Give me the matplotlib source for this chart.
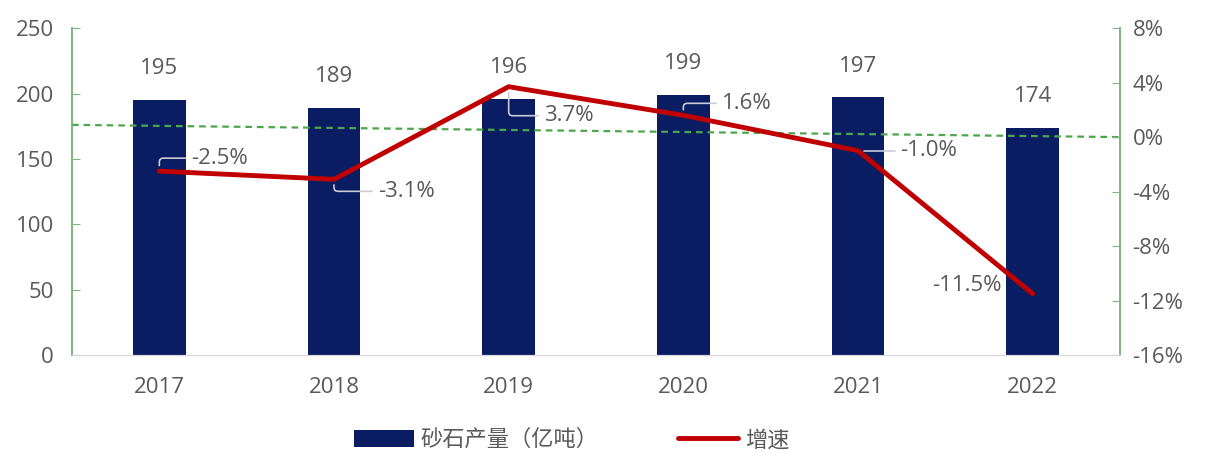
import matplotlib
matplotlib.use("Agg")
import matplotlib.pyplot as plt

plt.rcParams['font.family'] = ['Open Sans', 'Noto Sans CJK SC', 'DejaVu Sans']

years = ['2017', '2018', '2019', '2020', '2021', '2022']
output = [195, 189, 196, 199, 197, 174]
growth = [-2.5, -3.1, 3.7, 1.6, -1.0, -11.5]
ref_line = [0.9, 0.0]  # dashed green reference, % at left and right edge
left_ticks = [0, 50, 100, 150, 200, 250]
right_ticks = [-16, -12, -8, -4, 0, 4, 8]

# label offsets (pixels) relative to point for growth labels
lab_off = [(60, 13), (72, -12), (60, -29), (63, 12), (71, 0), (-66, 8)]

navy = '#0A1D62'
red = '#C00000'
green = '#7DB87D'
gray = '#595959'
fs = 16

fig = plt.figure(figsize=(12.06, 4.54), dpi=100)
ax = fig.add_axes([0.0597, 0.218, 0.869, 0.720])
ax2 = ax.twinx()
ax.set_zorder(1)
ax2.set_zorder(2)
ax.patch.set_visible(False)

x = list(range(len(years)))
bars = ax.bar(x, output, width=0.30, color=navy, label='砂石产量（亿吨）', zorder=2)
for xi, v in zip(x, output):
    ax.annotate(str(v), (xi, v), xytext=(0, 22.5), textcoords='offset points',
                ha='center', va='center', fontsize=fs, color=gray)

ax.set_xlim(-0.5, len(years) - 0.5)
ax.set_ylim(0, 250)
ax.set_yticks(left_ticks)
ax.set_xticks(x)
ax.set_xticklabels(years)

ax2.set_ylim(-16, 8)
ax2.set_yticks(right_ticks)
ax2.set_yticklabels([f'{t}%' for t in right_ticks])

ax2.plot([-0.5, len(years) - 0.5], ref_line, color='#4CA64C', lw=1.6,
         ls=(0, (3, 2.2)), zorder=1)
line, = ax2.plot(x, growth, color=red, lw=3.5, label='增速', zorder=3,
                 solid_capstyle='round', solid_joinstyle='round')

for xi, g, (dx, dy) in zip(x, growth, lab_off):
    txt = f'{g:.1f}%'
    if dx < 0:
        ax2.annotate(txt, (xi, g), xytext=(dx * 0.72, dy * 0.72), textcoords='offset points',
                     ha='center', va='center', fontsize=fs, color=gray, zorder=4)
    else:
        ax2.annotate(txt, (xi, g), xytext=(dx * 0.72, dy * 0.72), textcoords='offset points',
                     ha='center', va='center', fontsize=fs, color=gray, zorder=4,
                     arrowprops=dict(arrowstyle='-', color='#C8CCD8', lw=1.2,
                                     shrinkA=2, shrinkB=4,
                                     connectionstyle='angle,angleA=0,angleB=90,rad=4'))

for a in (ax, ax2):
    a.spines['top'].set_visible(False)
    a.spines['left'].set_color(green)
    a.spines['right'].set_color(green)
    a.spines['bottom'].set_color('#D9D9D9')
    a.spines['left'].set_linewidth(1.2)
    a.spines['right'].set_linewidth(1.2)

ax.tick_params(axis='y', direction='in', length=6, color=green, labelsize=fs,
               labelcolor=gray, pad=13)
ax.tick_params(axis='x', length=0, labelsize=fs, labelcolor=gray, pad=16)
ax2.tick_params(axis='y', direction='in', length=6, color=green, labelsize=fs,
                labelcolor=gray, pad=9)

fig.legend(handles=[bars, line], labels=['砂石产量（亿吨）', '增速'],
           loc='center', bbox_to_anchor=(0.474, 0.03), ncol=2, frameon=False,
           fontsize=16, labelcolor=gray, handlelength=2.7, handleheight=0.85,
           columnspacing=3.6, handletextpad=0.3)

fig.savefig('out.png', dpi=100)
